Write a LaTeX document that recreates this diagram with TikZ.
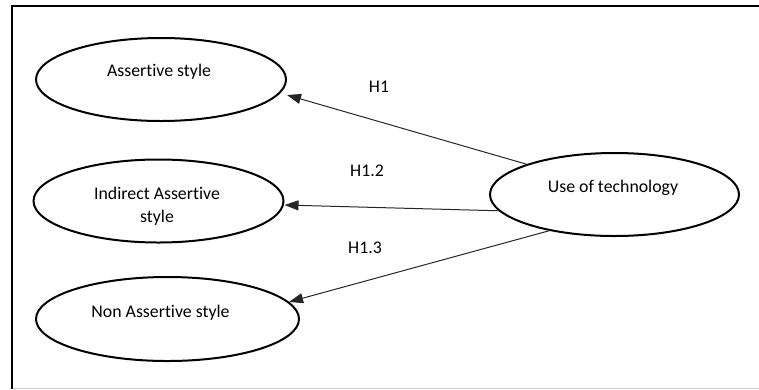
\documentclass[tikz,border=0pt]{standalone}
\usepackage{fontspec}
\setmainfont{Carlito}[Ligatures=NoCommon]
\usetikzlibrary{shapes.geometric,arrows.meta}
\begin{document}
\begin{tikzpicture}[x=1pt,y=-1pt,
  ell/.style={draw, ellipse, line width=2pt, inner sep=0pt, minimum width=#1, minimum height=83pt},
  ell/.default=250pt,
  txt/.style={font=\fontsize{17.8}{23}\selectfont, inner sep=0pt, align=center},
  arr/.style={-{Triangle[length=14pt,width=10pt]}, line width=1pt, draw=black!85}]
\useasboundingbox (0,0) rectangle (759,389);
% frame
\draw[line width=2pt, line join=miter] (12.2,389) -- (12.2,6.3) -- (759,6.3);
\draw[black!20, line width=1pt] (13,388.5) -- (759,388.5);
% ellipses
\node[ell] (as) at (161,79.5) {};
\node[ell] (ind) at (158.5,201) {};
\node[ell=263pt, minimum height=84pt] (non) at (167.5,319) {};
\node[ell=249pt] (tech) at (614.5,194.5) {};
% texts
\node[txt] (asT) at (159,72) {Assertive style};
\node[txt] (indT) at (157,206.5) {Indirect Assertive\\style};
\node[txt] (nonT) at (160.5,313) {Non Assertive style};
\node[txt] (techT) at (613,188) {Use of technology};
% arrows
\draw[arr] (tech.161.6) -- ([yshift=-15.5pt]as.east);
\draw[arr] (tech.188.6) -- ([yshift=-4pt]ind.east);
\draw[arr] (tech.209) -- (non.8.1);
% labels
\node[txt] (h1) at (379,87) {H1};
\node[txt] (h12) at (367,171) {H1.2};
\node[txt] (h13) at (365,248) {H1.3};
\end{tikzpicture}
\end{document}
